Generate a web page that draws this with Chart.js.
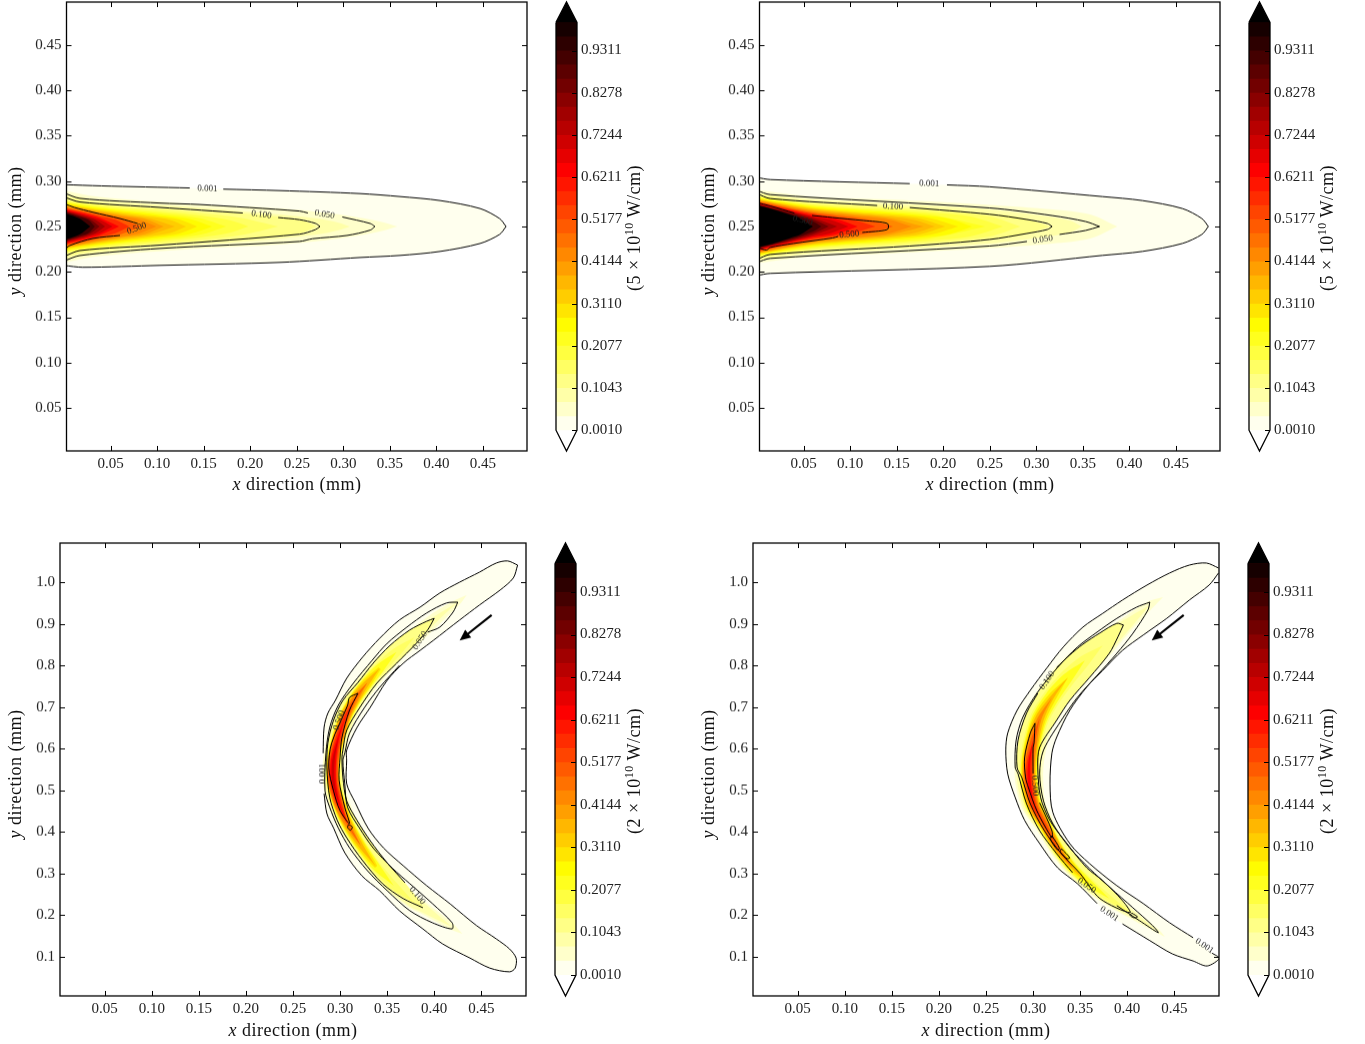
<!DOCTYPE html>
<html>
<head>
<meta charset="utf-8">
<title>Intensity contours</title>
<script src="https://cdn.jsdelivr.net/npm/chart.js@4/dist/chart.umd.min.js"></script>
<style>
    html, body { margin: 0; padding: 0; background: #fff; }
    body { position: relative; width: 1365px; height: 1044px; overflow: hidden; font-family: "Liberation Serif", serif; color: #111; }
    canvas { position: absolute; }
    .title { position: absolute; font-size: 18px; letter-spacing: .5px; white-space: nowrap; transform: translate(-50%, -50%); }
    .title.rot { transform: translate(-50%, -50%) rotate(-90deg); }
    .title sup { font-size: 12px; line-height: 0; }
</style>
</head>
<body>
<script>
// ticks
const xTicks = [.05, .10, .15, .20, .25, .30, .35, .40, .45];
const xLabels = ['0.05', '0.10', '0.15', '0.20', '0.25', '0.30', '0.35', '0.40', '0.45'];
const yTicksTop = [.05, .10, .15, .20, .25, .30, .35, .40, .45];
const yLabelsTop = ['0.05', '0.10', '0.15', '0.20', '0.25', '0.30', '0.35', '0.40', '0.45'];
const yTicksBottom = [.1, .2, .3, .4, .5, .6, .7, .8, .9, 1.0];
const yLabelsBottom = ['0.1', '0.2', '0.3', '0.4', '0.5', '0.6', '0.7', '0.8', '0.9', '1.0'];
const cbTicks = [.0010, .1043, .2077, .3110, .4144, .5177, .6211, .7244, .8278, .9311];
const cbLabels = ['0.0010', '0.1043', '0.2077', '0.3110', '0.4144', '0.5177', '0.6211', '0.7244', '0.8278', '0.9311'];

// 30 contour levels, 29 colour bands between them
const cbLevels = [.001, .0354, .0699, .1043, .1387, .1732, .2077, .2421, .2766, .311, .3455, .38, .4144, .4488, .4833,
    .5177, .5522, .5866, .6211, .6555, .69, .7244, .7588, .7933, .8278, .8622, .8967, .9311, .9656, 1];
const bandColors = ['#ffffee', '#ffffcb', '#ffffa8', '#ffff86', '#ffff63', '#ffff40', '#ffff1e', '#fffc00', '#ffe500', '#ffcd00',
    '#ffb700', '#ff9f00', '#ff8800', '#ff7100', '#ff5a00', '#ff4400', '#ff2c00', '#ff1500', '#fd0000', '#e60000',
    '#cf0000', '#b80000', '#a10000', '#8a0000', '#720000', '#5c0000', '#440000', '#2d0000', '#160000', '#000000'];

// top panels: filled levels as [x, half width] around y = 0.25, keyed by band index
const lensBands1 = {
    1: [[0, .0396], [.038, .0325], [.146, .0242], [.232, .0198], [.296, .0132], [.339, .0055], [.358, 0]],
    2: [[0, .0363], [.038, .0292], [.146, .0204], [.232, .0132], [.275, .0083], [.296, .0039], [.307, 0]],
    3: [[0, .033], [.038, .0264], [.146, .0171], [.192, .0143], [.253, .0077], [.271, 0]],
    4: [[0, .0295], [.017, .027], [.038, .0242], [.06, .022], [.103, .0187], [.146, .0149], [.189, .0097], [.23, 0]],
    5: [[0, .028], [.017, .0253], [.038, .0226], [.06, .0204], [.103, .0165], [.146, .0121], [.178, .0068], [.198, 0]],
    6: [[0, .027], [.017, .0244], [.038, .0212], [.06, .0187], [.103, .0147], [.146, .0092], [.174, 0]],
    7: [[0, .0259], [.017, .0231], [.038, .0201], [.06, .0174], [.103, .0128], [.135, .0084], [.159, 0]],
    8: [[0, .0251], [.017, .0222], [.038, .019], [.06, .0162], [.103, .011], [.124, .0076], [.143, 0]],
    9: [[0, .0242], [.017, .0213], [.038, .0179], [.06, .0149], [.092, .0107], [.114, .0073], [.131, 0]],
    10: [[0, .0237], [.017, .0207], [.038, .0169], [.06, .0136], [.092, .0088], [.119, 0]],
    11: [[0, .0231], [.017, .0199], [.038, .016], [.06, .0124], [.087, .0084], [.107, 0]],
    12: [[0, .0222], [.017, .019], [.038, .015], [.06, .0112], [.081, .0074], [.099, 0]],
    14: [[0, .0211], [.017, .0176], [.038, .0132], [.06, .0088], [.083, 0]],
    16: [[0, .0201], [.017, .0165], [.038, .0113], [.055, .0074], [.07, 0]],
    18: [[0, .019], [.017, .0151], [.038, .0096], [.059, 0]],
    20: [[0, .0182], [.017, .014], [.038, .0076], [.052, 0]],
    22: [[0, .0174], [.017, .0128], [.033, .0076], [.044, 0]],
    24: [[0, .0165], [.017, .0116], [.028, .0077], [.038, 0]],
    26: [[0, .0157], [.017, .0105], [.026, .0072], [.033, 0]],
    29: [[0, .0149], [.017, .0086], [.028, 0]]
};
const lensBands2 = {
    1: [[0, .0404], [.06, .033], [.141, .0297], [.25, .0238], [.317, .0187], [.358, .0132], [.387, 0]],
    2: [[0, .0374], [.06, .0297], [.141, .0253], [.25, .0187], [.304, .0121], [.336, .0066], [.349, 0]],
    3: [[0, .0356], [.06, .0273], [.141, .0228], [.186, .0198], [.25, .0143], [.283, .0099], [.315, 0]],
    4: [[0, .0341], [.025, .0301], [.06, .0253], [.1, .0228], [.141, .0206], [.186, .0176], [.25, .011], [.283, 0]],
    5: [[0, .0332], [.025, .0288], [.06, .024], [.1, .0209], [.141, .0187], [.186, .0154], [.229, .011], [.264, 0]],
    6: [[0, .0323], [.025, .0278], [.06, .0228], [.1, .0196], [.141, .0169], [.186, .0132], [.245, 0]],
    7: [[0, .0316], [.025, .027], [.06, .0216], [.1, .0184], [.141, .0154], [.186, .0114], [.207, .0084], [.231, 0]],
    8: [[0, .0308], [.025, .0262], [.06, .0207], [.1, .0169], [.141, .014], [.186, .0092], [.216, 0]],
    9: [[0, .0303], [.025, .0253], [.06, .0196], [.1, .0158], [.141, .0124], [.175, .0086], [.202, 0]],
    10: [[0, .0297], [.025, .0248], [.06, .0187], [.1, .0147], [.141, .011], [.17, .007], [.191, 0]],
    11: [[0, .0292], [.06, .0176], [.1, .0136], [.141, .0095], [.179, 0]],
    12: [[0, .0286], [.06, .0169], [.1, .0125], [.141, .0077], [.166, 0]],
    14: [[0, .0275], [.06, .0154], [.1, .0105], [.121, .0074], [.146, 0]],
    16: [[0, .027], [.06, .0141], [.1, .0079], [.127, 0]],
    18: [[0, .0262], [.06, .0124], [.084, .0088], [.108, 0]],
    20: [[0, .0253], [.06, .011], [.078, .0076], [.098, 0]],
    22: [[0, .025], [.06, .0096], [.086, 0]],
    24: [[0, .0242], [.035, .0151], [.06, .0077], [.077, 0]],
    26: [[0, .0237], [.035, .0142], [.06, .0055], [.069, 0]],
    29: [[0, .0231], [.014, .0196], [.025, .0162], [.035, .0129], [.046, .0092], [.06, 0]]
};

// top panels: contour lines as upper and lower half lists, null = gap for the inline label
const p1c001Up = [[0, .0462], [.04, .0448], [.135, .0425], null, [.171, .0412], [.232, .0396], [.318, .0363], [.361, .033], [.404, .0286], [.447, .0198], [.468, .0088], [.475, 0]];
const p1c001Low = [[0, .043], [.02, .045], [.103, .0429], [.232, .0396], [.318, .0342], [.361, .0319], [.404, .0275], [.447, .0187], [.468, .0088], [.475, 0]];
const p1c050Up = [[0, .037], [.017, .031], [.103, .0258], [.146, .0242], [.253, .017], [.262, .0149], null, [.299, .0105], [.329, .0033], [.334, 0]];
const p1c050Low = [[0, .038], [.017, .032], [.103, .0242], [.253, .0165], [.267, .0135], [.304, .0099], [.329, .004], [.334, 0]];
const p1c100Up = [[0, .0325], [.017, .027], [.103, .021], [.192, .0149], null, [.23, .0099], [.253, .0075], [.27, .0035], [.275, 0]];
const p1c100Low = [[0, .033], [.017, .0265], [.103, .0205], [.253, .0085], [.27, .0035], [.275, 0]];
const p1c500Up = [[0, .0253], [.011, .021], [.031, .0157], [.06, .0088], [.079, .0033]];
const p1c500Low = [[0, .0264], [.006, .021], [.031, .0132], [.06, .0099], null];

const p2c001Up = [[0, .054], [.014, .0517], [.164, .0473], null, [.204, .0459], [.25, .0438], [.371, .033], [.414, .0286], [.457, .0198], [.478, .0088], [.485, 0]];
const p2c001Low = [[0, .054], [.014, .0517], [.25, .044], [.371, .0319], [.414, .0275], [.457, .0187], [.478, .0088], [.485, 0]];
const p2c050Up = [[0, .0396], [.014, .0352], [.25, .0204], [.317, .0121], [.353, .0055], [.368, 0]];
const p2c050Low = [[0, .0396], [.014, .0352], [.25, .0215], [.29, .0165], null, [.325, .0088], [.353, .0044], [.368, 0]];
const p2c100Up = [[0, .0363], [.014, .0308], [.129, .0231], null, [.164, .0209], [.25, .0135], [.29, .0077], [.312, .0033], [.317, 0]];
const p2c100Low = [[0, .0363], [.014, .0308], [.164, .0215], [.25, .0143], [.29, .0077], [.312, .0033], [.317, 0]];
const p2c500Up = [[0, .0264], [.014, .0227], [.04, .0148], null, [.059, .0122], [.081, .0099], [.114, .0066], [.14, .0033]];
const p2c500Low = [[0, .0231], [.01, .026], [.014, .0231], [.039, .0187], [.081, .0127], [.087, .011], null, [.113, .0066], [.14, .0033]];

// bottom panels: contour polygons as [x, y], null = label gap
const p3c001 = [[.4886, 1.041], [.478, 1.051], [.466, 1.046], [.448, 1.024], [.427, 1.0], [.406, .974], [.385, .94], [.363, .909], [.342, .865], [.324, .82],
    [.307, .769], [.295, .716], [.287, .685], [.283, .651], [.282, .589], null, [.283, .492], [.286, .444], [.293, .41], [.305, .35], [.323, .295],
    [.342, .259], [.363, .211], [.388, .167], [.409, .131], [.438, .097], [.459, .073], [.48, .064], [.486, .073], [.487, .097], [.48, .119],
    [.466, .143], [.445, .175], [.417, .227], [.392, .271], [.367, .319], [.346, .362], [.33, .408], [.316, .471], [.307, .516], [.307, .572],
    [.307, .596], [.318, .651], [.332, .699], [.35, .764], [.367, .805], [.385, .836], [.399, .86], [.427, .909], [.448, .945], [.47, .981], [.484, 1.01], [.4886, 1.041]];
const p3c050 = [[.425, .952], [.413, .95], [.392, .926], [.371, .892], [.35, .853], [.334, .812], [.314, .757], [.298, .704], [.289, .651], [.285, .589],
    [.284, .499], [.289, .459], [.298, .41], [.31, .362], [.329, .307], [.35, .259], [.374, .211], [.398, .182], [.419, .167], [.419, .182],
    [.398, .228], [.374, .276], [.356, .312], [.335, .362], [.321, .408], [.308, .459], [.305, .516], [.303, .572], [.305, .589], [.31, .637],
    [.326, .699], [.342, .747], [.363, .8], null, [.393, .88], [.406, .892], [.42, .928], [.425, .952]];
const p3c100 = [[.4, .913], [.392, .906], [.374, .885], [.353, .848], [.335, .805], [.319, .759], [.303, .716], [.293, .668], [.287, .613], [.286, .555],
    [.289, .483], [.297, .428], [.307, .386], [.324, .331], [.345, .276], [.367, .24], [.388, .218], null, [.369, .278], [.35, .326], [.332, .379],
    [.318, .428], [.307, .475], [.303, .531], [.302, .579], [.303, .596], [.307, .644], [.321, .699], [.339, .757], [.36, .805], [.381, .853], [.393, .885], [.4, .913]];
const p3c500 = [[.319, .733], [.31, .723], [.308, .704], [.291, .613], [.288, .555], [.293, .499], [.3, .451], [.31, .42], [.305, .459], [.299, .524],
    [.3, .579], [.302, .627], [.31, .692], [.319, .733]];
const p3c500b = [[.309, .418], [.313, .412], [.311, .404], [.308, .411], [.309, .418]];

const p4c001 = [[.497, 1.034], [.484, 1.046], [.466, 1.041], [.445, 1.022], [.421, .993], [.395, .957], [.374, .925], [.353, .892], [.332, .844], [.315, .795],
    [.297, .74], [.283, .692], [.273, .637], [.271, .596], [.273, .54], [.281, .483], [.291, .428], [.307, .372], [.326, .314], [.347, .276], [.368, .228], null,
    [.395, .179], [.424, .139], [.448, .107], [.47, .09], [.485, .078], [.498, .097], [.49, .109], null, [.47, .146], [.445, .182], [.417, .228], [.389, .271],
    [.36, .324], [.339, .372], [.321, .447], [.318, .516], [.32, .589], [.325, .627], [.339, .692], [.357, .748], [.374, .788], [.395, .836], [.417, .873],
    [.442, .913], [.466, .957], [.487, .993], [.497, 1.022]];
const p4c050 = [[.424, .952], [.41, .94], [.389, .913], [.368, .88], [.347, .844], [.326, .795], [.304, .733], [.289, .675], [.282, .62], [.281, .555],
    [.284, .54], [.293, .468], [.307, .403], [.325, .348], [.342, .302], null, [.389, .223], [.413, .187], [.433, .158], [.427, .175], [.406, .218], [.382, .266],
    [.36, .312], [.339, .362], [.321, .42], [.311, .475], [.307, .54], [.311, .596], [.332, .675], [.347, .723], [.368, .776], [.389, .829], [.406, .877], [.422, .933], [.424, .952]];
const p4c100 = [[.396, .897], [.389, .901], [.371, .878], [.353, .851], [.339, .825], [.325, .795], null, [.305, .733], [.293, .685], [.284, .62], [.283, .555],
    [.288, .531], [.297, .468], [.312, .403], [.33, .348], [.35, .3], [.371, .24], [.403, .206], [.395, .235], [.374, .283], [.357, .314], [.336, .372],
    [.318, .427], [.308, .483], [.305, .555], [.307, .603], [.325, .668], [.339, .716], [.36, .771], [.381, .829], [.39, .868], [.396, .897]];
const p4c500 = [[.302, .661], [.297, .637], [.291, .579], [.292, .531], [.295, .507], [.304, .451], [.32, .386], [.32, .403], [.307, .47], null, [.3, .54], [.3, .603], [.301, .613], [.302, .661]];
const p4c500b = [[.32, .391], [.328, .361], [.326, .357], [.318, .384], [.32, .391]];
const p4c500c = [[.33, .36], [.339, .338], [.336, .336], [.329, .352], [.33, .36]];
const p4c500d = [[.405, .205], [.411, .196], [.407, .194], [.403, .2], [.405, .205]];

// bottom panels: ridge of the crescent, and band half widths along it
const ridge3 = [[.4345, .969], [.425, .952], [.4, .909], [.379, .868], [.36, .832], [.342, .793], [.329, .759], [.317, .723], [.306, .678], [.298, .625], [.293, .572],
    [.293, .519], [.299, .468], [.308, .42], [.322, .367], [.338, .317], [.357, .271], [.379, .23], [.388, .218], [.419, .172], [.43, .155]];
const ridge4 = [[.438, .964], [.424, .945], [.396, .892], [.374, .848], [.355, .812], [.337, .771], [.32, .723], [.307, .673], [.3, .62], [.296, .567], [.296, .519],
    [.301, .463], [.313, .415], [.326, .362], [.342, .314], [.36, .276], [.381, .24], [.403, .206], [.432, .162], [.44, .148]];
// [band, first ridge station, half widths]
const ribbons3 = [
    [1, 0, [0, 3, 6.5, 8, 9, 10, 10.5, 10.5, 10.5, 10.5, 10.5, 10.5, 10.5, 10, 9.5, 9, 8.5, 7, 6, 3, 0]],
    [2, 1, [0, 3, 6, 7, 8, 8.5, 9, 9, 9, 9, 9, 9, 8.5, 8, 7.5, 7, 5.5, 4.5, 0]],
    [4, 3, [0, 4.5, 5.7, 6.3, 6.7, 7, 7.1, 7.2, 7.2, 7.1, 6.5, 5.8, 5.2, 4, 0]],
    [6, 4, [0, 4.5, 5.5, 6, 6.3, 6.4, 6.6, 6.6, 6.4, 5.8, 5, 4, 0]],
    [8, 5, [1.5, 4.5, 5.4, 5.7, 5.9, 6.1, 6.1, 5.9, 5.2, 4, 1.5]],
    [10, 5, [0, 2.6, 4.5, 5.2, 5.5, 5.7, 5.7, 5.5, 4.3, 2.4, 0]],
    [12, 6, [0, 3, 4, 5, 5.3, 5.3, 5, 3, 0]],
    [14, 6, [0, 1, 3, 3.6, 5, 5, 3.6, 1, 0]],
    [16, 7, [0, 1.5, 2.6, 3.5, 3.5, 2.6, 0]],
    [18, 8, [0, 1, 2.6, 2.6, 1, 0]],
    [20, 9, [0, 1.2, 1.2, 0]]
];
const ribbons4 = [
    [1, 0, [0, 4, 8, 12, 15, 16, 16, 15.5, 15, 14.5, 14, 12, 9.5, 8.5, 8, 8, 7, 5, 2, 0]],
    [2, 1, [0, 6, 9.5, 12.5, 14, 14, 13.5, 13, 12.5, 12, 10.5, 8.5, 7.5, 7, 7, 6, 3.5, 0]],
    [4, 3, [0, 5.5, 8, 9, 9.5, 9.6, 9.6, 9.5, 8.5, 6.8, 6, 5.5, 5, 3, 0]],
    [6, 4, [0, 5, 7, 7.8, 8, 8.2, 8.2, 7.5, 6, 5.2, 4.5, 3.5, 0]],
    [8, 5, [0, 4.3, 6.2, 7, 7.3, 7.4, 6.7, 5.3, 4.6, 3.5, 0]],
    [10, 5, [0, 1.8, 4.3, 5.8, 6.4, 6.5, 5.8, 4.6, 4, 1.2, 0]],
    [12, 6, [0, 2, 4.3, 5.4, 5.4, 4.8, 3.8, 2.5, 0]],
    [14, 7, [0, 2.4, 4, 4.2, 3.4, 2.2, 1, 0]],
    [16, 8, [0, 2.6, 2.9, 2, .5, 0]],
    [18, 8, [0, 1, 1.4, 0]]
];

// inline contour labels: text, x, y, rotation in degrees
const p1Labels = [['0.001', .154, .2918, 2], ['0.100', .212, .2632, 8], ['0.050', .28, .2632, 10], ['0.500', .078, .2478, -20]];
const p2Labels = [['0.001', .185, .2973, 2], ['0.100', .146, .272, 3], ['0.050', .307, .2357, -8], ['0.500', .099, .2412, -5], ['0.500', .049, .2566, 15]];
const p3Labels = [['0.001', .282, .54, -90], ['0.500', .299, .668, -70], ['0.050', .385, .86, -58], ['0.100', .382, .247, 50]];
const p4Labels = [['0.001', .381, .203, 33], ['0.001', .482, .126, 33], ['0.050', .357, .271, 35], ['0.100', .315, .764, -55], ['0.500', .302, .511, 85]];
const arrow3 = [[.461, .921], [.427, .860]];
const arrow4 = [[.460, .921], [.426, .860]];

const yCentre = .25;
const gridCell = .00106; // ribbon half widths are counted in cells of this size (mm)
const xyAspect = 2.27;   // bottom panels: mm of y per mm of x on screen

const toPoints = list => list.map(p => p ? { x: p[0], y: p[1] } : { x: NaN, y: NaN });
const mirror = (up, low) => [
    ...up.map(p => p && [p[0], yCentre + p[1]]),
    ...low.slice().reverse().map(p => p && [p[0], yCentre - p[1]])
];

function ribbon(ridge, from, widths) {
    const left = [], right = [];
    widths.forEach((w, i) => {
        const k = from + i;
        const a = ridge[Math.max(k - 1, 0)], b = ridge[Math.min(k + 1, ridge.length - 1)], c = ridge[k];
        const tx = b[0] - a[0], ty = (b[1] - a[1]) / xyAspect, len = Math.hypot(tx, ty);
        const ox = -ty / len * w * gridCell, oy = tx / len * w * gridCell * xyAspect;
        left.push([c[0] + ox, c[1] + oy]);
        right.unshift([c[0] - ox, c[1] - oy]);
    });
    return [...left, ...right];
}

const shape = (list, color) => ({
    data: toPoints(list.filter(Boolean)), showLine: true, pointRadius: 0, borderWidth: 0,
    backgroundColor: color, fill: 'shape', tension: .3
});
const contour = list => ({
    data: toPoints(list), showLine: true, pointRadius: 0, borderWidth: 1, borderColor: '#000',
    backgroundColor: 'transparent', fill: false, tension: .3
});

const tickFont = { family: '"Liberation Serif", serif', size: 15 };

// frame and inward ticks on all four sides
const framePlugin = {
    id: 'frame',
    afterDraw(chart) {
        const { ctx, chartArea: a, scales: { x, y } } = chart;
        ctx.save();
        ctx.strokeStyle = '#000';
        ctx.lineWidth = 1.3;
        ctx.strokeRect(a.left, a.top, a.right - a.left, a.bottom - a.top);
        ctx.lineWidth = 1;
        ctx.beginPath();
        x.ticks.forEach(t => {
            const px = Math.round(x.getPixelForValue(t.value)) + .5;
            ctx.moveTo(px, a.top); ctx.lineTo(px, a.top + 5);
            ctx.moveTo(px, a.bottom); ctx.lineTo(px, a.bottom - 5);
        });
        y.ticks.forEach(t => {
            const py = Math.round(y.getPixelForValue(t.value)) + .5;
            ctx.moveTo(a.left, py); ctx.lineTo(a.left + 5, py);
            ctx.moveTo(a.right, py); ctx.lineTo(a.right - 5, py);
        });
        ctx.stroke();
        ctx.restore();
    }
};

const inlineLabels = {
    id: 'inlineLabels',
    afterDatasetsDraw(chart, args, opts) {
        const { ctx, scales: { x, y } } = chart;
        ctx.save();
        ctx.font = '9px "Liberation Serif", serif';
        ctx.fillStyle = '#222';
        ctx.textAlign = 'center';
        ctx.textBaseline = 'middle';
        (opts.items || []).forEach(([text, vx, vy, rot]) => {
            ctx.save();
            ctx.translate(x.getPixelForValue(vx), y.getPixelForValue(vy));
            ctx.rotate(rot * Math.PI / 180);
            ctx.fillText(text, 0, 0);
            ctx.restore();
        });
        if (opts.arrow) {
            const [s, e] = opts.arrow;
            const x0 = x.getPixelForValue(s[0]), y0 = y.getPixelForValue(s[1]);
            const x1 = x.getPixelForValue(e[0]), y1 = y.getPixelForValue(e[1]);
            const ang = Math.atan2(y1 - y0, x1 - x0);
            ctx.strokeStyle = '#000';
            ctx.fillStyle = '#000';
            ctx.lineWidth = 2.2;
            ctx.beginPath(); ctx.moveTo(x0, y0); ctx.lineTo(x1 - 8 * Math.cos(ang), y1 - 8 * Math.sin(ang)); ctx.stroke();
            ctx.beginPath();
            ctx.moveTo(x1, y1);
            ctx.lineTo(x1 - 12 * Math.cos(ang - .42), y1 - 12 * Math.sin(ang - .42));
            ctx.lineTo(x1 - 12 * Math.cos(ang + .42), y1 - 12 * Math.sin(ang + .42));
            ctx.closePath(); ctx.fill();
        }
        ctx.restore();
    }
};

const colorbarTicks = {
    id: 'colorbarTicks',
    afterDraw(chart) {
        const { ctx, chartArea: a, scales: { y } } = chart;
        ctx.save();
        ctx.strokeStyle = '#000';
        ctx.beginPath();
        y.ticks.forEach(t => {
            const py = Math.round(y.getPixelForValue(t.value)) + .5;
            ctx.moveTo(a.right, py); ctx.lineTo(a.right - 5, py);
        });
        ctx.stroke();
        ctx.restore();
    }
};

// the scales would otherwise reserve room for half of their outer tick labels
const noScalePadding = s => { s.paddingTop = s.paddingBottom = s.paddingLeft = s.paddingRight = 0; };

function makeCanvas(left, top, width, height) {
    const c = document.createElement('canvas');
    c.width = width; c.height = height;
    c.style.left = left + 'px'; c.style.top = top + 'px';
    c.style.width = width + 'px'; c.style.height = height + 'px';
    document.body.appendChild(c);
    return c;
}

function plotPanel(box, yMin, yMax, yTicks, yLabels, fills, lines, labels, arrow) {
    const x0 = Math.floor(box.left) - 62, y0 = box.top - 2;
    const canvas = makeCanvas(x0, y0, Math.ceil(box.right) + 4 - x0, box.bottom + 32 - y0);
    // later datasets paint over earlier ones
    const datasets = [...fills, ...lines].map((d, i) => ({ ...d, order: -i }));
    new Chart(canvas, {
        type: 'scatter',
        data: { datasets },
        options: {
            responsive: false, animation: false, events: [],
            layout: { autoPadding: false, padding: { top: 2, right: canvas.width - (box.right - x0), left: 0, bottom: 0 } },
            plugins: { legend: { display: false }, tooltip: { enabled: false }, inlineLabels: { items: labels, arrow } },
            scales: {
                x: {
                    type: 'linear', min: .0025, max: .4975,
                    afterBuildTicks: s => { s.ticks = xTicks.map(v => ({ value: v })); },
                    afterFit: s => { s.height = 32; noScalePadding(s); },
                    grid: { display: false, drawTicks: false }, border: { display: false },
                    ticks: { font: tickFont, color: '#222', padding: 4, autoSkip: false, maxRotation: 0, callback: (v, i) => xLabels[i] }
                },
                y: {
                    type: 'linear', min: yMin, max: yMax,
                    afterBuildTicks: s => { s.ticks = yTicks.map(v => ({ value: v })); },
                    afterFit: s => { s.width = box.left - x0; noScalePadding(s); },
                    grid: { display: false, drawTicks: false }, border: { display: false },
                    ticks: { font: tickFont, color: '#222', padding: 5, autoSkip: false, callback: (v, i) => yLabels[i] }
                }
            }
        },
        plugins: [inlineLabels, framePlugin]
    });
}

function colorbar(left, top, bottom) {
    const canvas = makeCanvas(left - 2, top - 2, 90, bottom - top + 4);
    const bands = bandColors.slice(0, 29).map((color, i) =>
        shape([[0, cbLevels[i]], [1, cbLevels[i]], [1, 1], [0, 1]], color));
    bands.forEach(d => { d.tension = 0; });
    const over = shape([[0, 1], [.5, 1.05], [1, 1]], '#000');
    over.tension = 0;
    const outline = {
        data: toPoints([[0, 1], [.5, 1.05], [1, 1], [1, .001], [.5, -.05], [0, .001], [0, 1]]),
        showLine: true, pointRadius: 0, borderWidth: 1.3, borderColor: '#000', fill: false, tension: 0, clip: 4
    };
    const datasets = [...bands, over, outline].map((d, i) => ({ ...d, order: -i }));
    new Chart(canvas, {
        type: 'scatter',
        data: { datasets },
        options: {
            responsive: false, animation: false, events: [],
            layout: { autoPadding: false, padding: { top: 2, bottom: 2, left: 2, right: 0 } },
            plugins: { legend: { display: false }, tooltip: { enabled: false } },
            scales: {
                x: { type: 'linear', min: 0, max: 1, display: false },
                y: {
                    type: 'linear', position: 'right', min: -.05, max: 1.05,
                    afterBuildTicks: s => { s.ticks = cbTicks.map(v => ({ value: v })); },
                    afterFit: s => { s.width = 67; noScalePadding(s); },
                    grid: { display: false, drawTicks: false }, border: { display: false },
                    ticks: { font: tickFont, color: '#222', padding: 4, autoSkip: false, callback: (v, i) => cbLabels[i] }
                }
            }
        },
        plugins: [colorbarTicks]
    });
}

function title(html, cx, cy, rotated) {
    const d = document.createElement('div');
    d.className = rotated ? 'title rot' : 'title';
    d.innerHTML = html;
    d.style.left = cx + 'px';
    d.style.top = cy + 'px';
    document.body.appendChild(d);
}

function lensFills(outerUp, outerLow, bands) {
    const fills = [shape(mirror(outerUp, outerLow), bandColors[0])];
    Object.keys(bands).map(Number).sort((a, b) => a - b).forEach(k => {
        fills.push(shape(mirror(bands[k], bands[k]), bandColors[k]));
    });
    return fills;
}

function crescentFills(outer, c100, ridge, ribbons) {
    const fills = [shape(outer, bandColors[0])];
    ribbons.forEach(([band, from, widths]) => {
        if (band === 4) fills.push(shape(c100, bandColors[3]));
        fills.push(shape(ribbon(ridge, from, widths), bandColors[band]));
    });
    return fills;
}

document.addEventListener('DOMContentLoaded', () => {
    plotPanel({ left: 66.5, top: 2, right: 527, bottom: 450.5 }, .0025, .4975, yTicksTop, yLabelsTop,
        lensFills(p1c001Up, p1c001Low, lensBands1),
        [mirror(p1c001Up, p1c001Low), mirror(p1c050Up, p1c050Low), mirror(p1c100Up, p1c100Low), mirror(p1c500Up, p1c500Low)].map(contour),
        p1Labels);
    plotPanel({ left: 759.5, top: 2, right: 1220, bottom: 450.5 }, .0025, .4975, yTicksTop, yLabelsTop,
        lensFills(p2c001Up, p2c001Low, lensBands2),
        [mirror(p2c001Up, p2c001Low), mirror(p2c050Up, p2c050Low), mirror(p2c100Up, p2c100Low), mirror(p2c500Up, p2c500Low)].map(contour),
        p2Labels);
    plotPanel({ left: 60, top: 543, right: 526, bottom: 995.5 }, .006, 1.094, yTicksBottom, yLabelsBottom,
        crescentFills(p3c001, p3c100, ridge3, ribbons3),
        [p3c001, p3c050, p3c100, p3c500, p3c500b].map(contour),
        p3Labels, arrow3);
    plotPanel({ left: 753, top: 543, right: 1219, bottom: 995.5 }, .006, 1.094, yTicksBottom, yLabelsBottom,
        crescentFills(p4c001, p4c100, ridge4, ribbons4),
        [p4c001, p4c050, p4c100, p4c500, p4c500b, p4c500c, p4c500d].map(contour),
        p4Labels, arrow4);

    colorbar(556, 2, 451);
    colorbar(1249, 2, 451);
    colorbar(555, 543, 996);
    colorbar(1248, 543, 996);

    const xTitle = '<i>x</i> direction (mm)', yTitle = '<i>y</i> direction (mm)';
    title(xTitle, 297, 484); title(xTitle, 990, 484); title(xTitle, 293, 1030); title(xTitle, 986, 1030);
    title(yTitle, 15, 231, true); title(yTitle, 708, 231, true); title(yTitle, 15, 774, true); title(yTitle, 708, 774, true);
    const cb5 = '(5 × 10<sup>10</sup> W/cm)', cb2 = '(2 × 10<sup>10</sup> W/cm)';
    title(cb5, 634, 228, true); title(cb5, 1327, 228, true); title(cb2, 634, 771, true); title(cb2, 1327, 771, true);
});
</script>
</body>
</html>
